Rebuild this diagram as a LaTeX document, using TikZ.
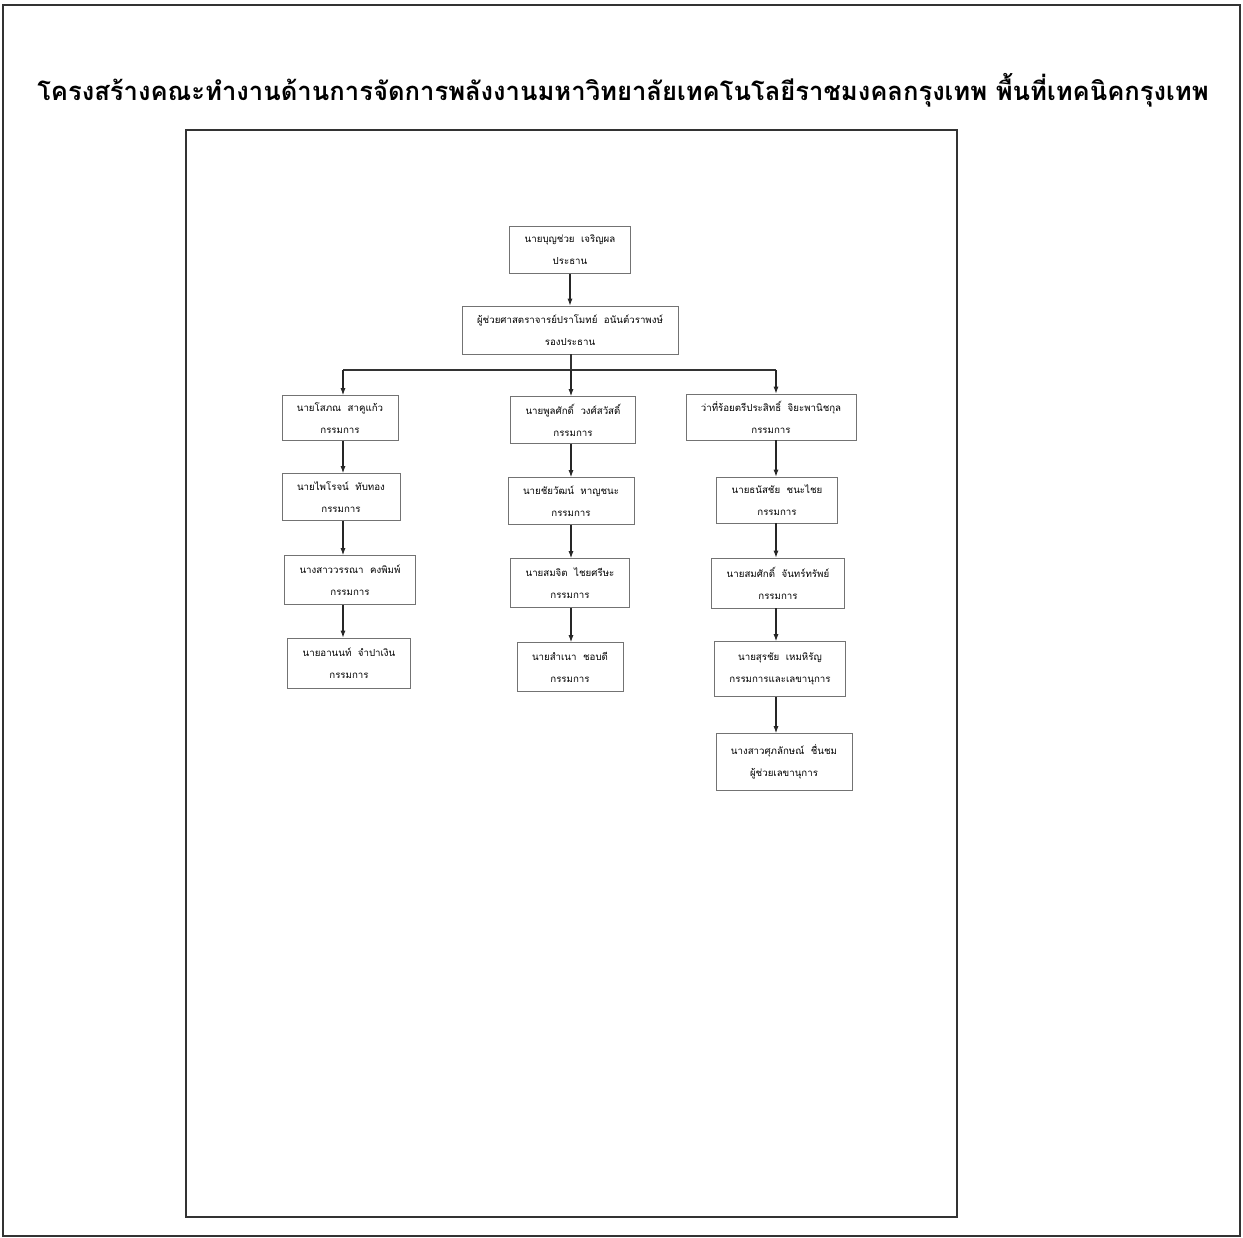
\documentclass[tikz,border=0pt]{standalone}
\usepackage{fontspec}
\newfontfamily\thaifont[Script=Thai]{Loma}
\usetikzlibrary{arrows.meta,positioning,calc}

\begin{document}
\begin{tikzpicture}[x=1pt, y=-1pt,
  frame/.style={draw=black!80, line width=1.6pt},
  box/.style={draw=black!55, line width=0.6pt, minimum height=47pt, inner xsep=15pt, align=center,
    font=\thaifont\fontsize{9.7}{22}\selectfont},
  line/.style={draw=black!80, line width=1.1pt},
  arrow/.style={-{Latex[length=7pt, width=5pt]}, draw=black!85, line width=1.1pt}
]
\useasboundingbox (0,0) rectangle (1243,1238);
\draw[frame] (3,5) rectangle (1240,1236);
\draw[frame, line width=1.3pt] (186,130) rectangle (957,1217);

\node[font=\thaifont\bfseries\fontsize{25.6}{30}\selectfont] (title) at (623,90)
  {โครงสร้างคณะทำงานด้านการจัดการพลังงานมหาวิทยาลัยเทคโนโลยีราชมงคลกรุงเทพ พื้นที่เทคนิคกรุงเทพ};

% chair and vice chair
\node[box] (chair) at (570,250) {นายบุญช่วย\ \ เจริญผล\\ประธาน};
\node[box, minimum height=48pt] (vice) at (570,330) {ผู้ช่วยศาสตราจารย์ปราโมทย์\ \ อนันต์วราพงษ์\\รองประธาน};

% column positions
\coordinate (col1) at (343,370);
\coordinate (col2) at (571,370);
\coordinate (col3) at (776,370);

% column 1
\node[box, minimum height=45pt] (soph) at (340,418) {นายโสภณ\ \ สาคูแก้ว\\กรรมการ};
\node[box] (pai) at (341,497) {นายไพโรจน์\ \ ทับทอง\\กรรมการ};
\node[box, minimum height=49pt] (wan) at (350,580) {นางสาววรรณา\ \ คงพิมพ์\\กรรมการ};
\node[box, minimum height=50pt] (anon) at (349,663) {นายอานนท์\ \ จำปาเงิน\\กรรมการ};

% column 2
\node[box] (pul) at (573,420) {นายพูลศักดิ์\ \ วงศ์สวัสดิ์\\กรรมการ};
\node[box] (chai) at (571,501) {นายชัยวัฒน์\ \ หาญชนะ\\กรรมการ};
\node[box, minimum height=49pt] (somj) at (570,583) {นายสมจิต\ \ ไชยศรีษะ\\กรรมการ};
\node[box, minimum height=49pt] (samn) at (570,667) {นายสำเนา\ \ ชอบดี\\กรรมการ};

% column 3
\node[box, minimum height=46pt] (pras) at (771,417) {ว่าที่ร้อยตรีประสิทธิ์\ \ จิยะพานิชกุล\\กรรมการ};
\node[box, minimum height=46pt] (than) at (777,500) {นายธนัสชัย\ \ ชนะไชย\\กรรมการ};
\node[box, minimum height=50pt] (soms) at (778,583) {นายสมศักดิ์\ \ จันทร์ทรัพย์\\กรรมการ};
\node[box, minimum height=55pt] (sura) at (780,669) {นายสุรชัย\ \ เหมหิรัญ\\กรรมการและเลขานุการ};
\node[box, minimum height=57pt] (supa) at (784,762) {นางสาวศุภลักษณ์\ \ ชื่นชม\\ผู้ช่วยเลขานุการ};

% connectors
\draw[arrow] (chair) -- (vice);
\draw[line] (vice.south -| col2) -- (col2);
\draw[line] (col1) -- (col3);
\draw[arrow] (col1) -- (soph.north -| col1);
\draw[arrow] (col2) -- (pul.north -| col2);
\draw[arrow] (col3) -- (pras.north -| col3);

\draw[arrow] (soph.south -| col1) -- (pai.north -| col1);
\draw[arrow] (pai.south -| col1) -- (wan.north -| col1);
\draw[arrow] (wan.south -| col1) -- (anon.north -| col1);

\draw[arrow] (pul.south -| col2) -- (chai.north -| col2);
\draw[arrow] (chai.south -| col2) -- (somj.north -| col2);
\draw[arrow] (somj.south -| col2) -- (samn.north -| col2);

\draw[arrow] (pras.south -| col3) -- (than.north -| col3);
\draw[arrow] (than.south -| col3) -- (soms.north -| col3);
\draw[arrow] (soms.south -| col3) -- (sura.north -| col3);
\draw[arrow] (sura.south -| col3) -- (supa.north -| col3);
\end{tikzpicture}
\end{document}
